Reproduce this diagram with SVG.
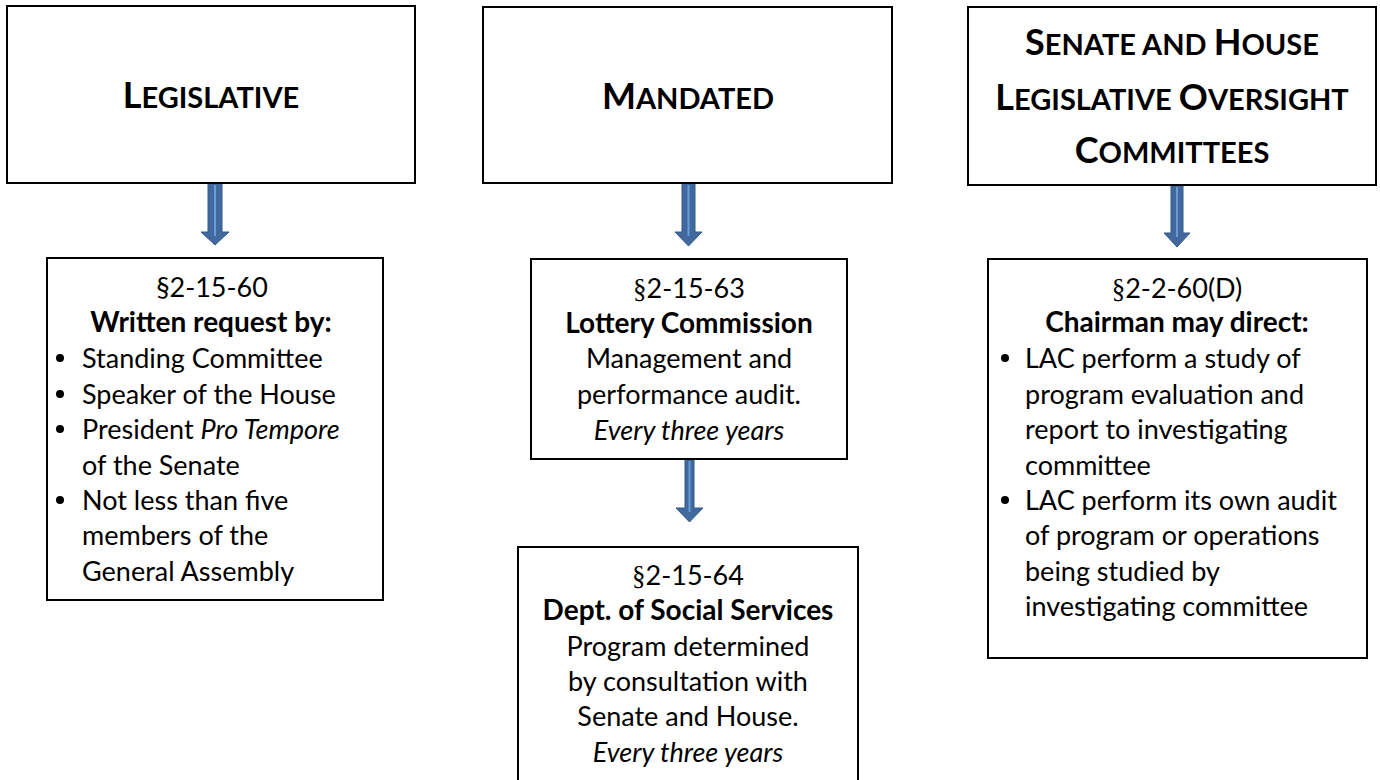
<svg xmlns="http://www.w3.org/2000/svg" width="1380" height="780" viewBox="0 0 1380 780">
<style>
.box{fill:#fff;stroke:#000;stroke-width:2}
.hd{font-family:Lato,"Liberation Sans",sans-serif;font-weight:bold;font-size:36px;fill:#000;text-anchor:middle}
.sc{font-size:29px}
.t{font-family:Lato,"Liberation Sans",sans-serif;font-size:27px;fill:#000}
.c{text-anchor:middle}
.b{font-weight:bold;font-size:28px}
.i{font-style:italic}
.sf{font-family:"Liberation Serif",serif}
.arr{fill:#41699e;stroke:#335a8a;stroke-width:1}
.hl{stroke:#6b9bd6;stroke-width:2}
</style>
<g id="connectors">
<g><polygon class="arr" points="208,183 222,183 222,232 229,232 215,245 201,232 208,232"/><line class="hl" x1="215" y1="185" x2="215" y2="236"/></g>
<g><polygon class="arr" points="682,183 695,183 695,232 702,232 688.5,246 675,232 682,232"/><line class="hl" x1="688.5" y1="185" x2="688.5" y2="236"/></g>
<g><polygon class="arr" points="685,459 694,459 694,508 703,508 689.5,522 676,508 685,508"/><line class="hl" x1="689.5" y1="461" x2="689.5" y2="512"/></g>
<g><polygon class="arr" points="1171,185 1183,185 1183,233 1190,233 1177,247 1164,233 1171,233"/><line class="hl" x1="1177" y1="187" x2="1177" y2="237"/></g>
</g>
<g id="legislative">
<rect class="box" x="7" y="6" width="408" height="177"/>
<text class="hd" x="211" y="108">L<tspan class="sc">EGISLATIVE</tspan></text>
</g>
<g id="mandated">
<rect class="box" x="483" y="7" width="409" height="176"/>
<text class="hd" x="688" y="109">M<tspan class="sc">ANDATED</tspan></text>
</g>
<g id="oversight">
<rect class="box" x="968" y="7" width="408" height="178"/>
<text class="hd" x="1172" y="55">S<tspan class="sc">ENATE AND </tspan>H<tspan class="sc">OUSE</tspan></text>
<text class="hd" x="1172" y="110">L<tspan class="sc">EGISLATIVE </tspan>O<tspan class="sc">VERSIGHT</tspan></text>
<text class="hd" x="1172" y="163">C<tspan class="sc">OMMITTEES</tspan></text>
</g>
<g id="sec-2-15-60">
<rect class="box" x="47" y="258" width="336" height="342"/>
<text class="t c" x="212" y="297">§2-15-60</text>
<text class="t c b" x="211" y="332">Written request by:</text>
<g class="t">
<circle cx="60" cy="358" r="4"/>
<text x="82" y="368">Standing Committee</text>
<circle cx="60" cy="394" r="4"/>
<text x="82" y="404">Speaker of the House</text>
<circle cx="60" cy="429" r="4"/>
<text x="82" y="439">President <tspan class="i">Pro Tempore</tspan></text>
<text x="82" y="475">of the Senate</text>
<circle cx="60" cy="500" r="4"/>
<text x="82" y="510">Not less than five</text>
<text x="82" y="545">members of the</text>
<text x="82" y="581">General Assembly</text>
</g>
</g>
<g id="sec-2-15-63">
<rect class="box" x="531" y="259" width="316" height="200"/>
<text class="t c" x="689" y="298"><tspan class="sf">§</tspan>2-15-63</text>
<text class="t c b" x="689" y="333">Lottery Commission</text>
<text class="t c" x="689" y="368">Management and</text>
<text class="t c" x="689" y="404">performance audit.</text>
<text class="t c i" x="689" y="440">Every three years</text>
</g>
<g id="sec-2-15-64">
<rect class="box" x="518" y="547" width="340" height="240"/>
<text class="t c" x="688" y="585"><tspan class="sf">§</tspan>2-15-64</text>
<text class="t c b" x="688" y="620">Dept. of Social Services</text>
<text class="t c" x="688" y="656">Program determined</text>
<text class="t c" x="688" y="691">by consultation with</text>
<text class="t c" x="688" y="726">Senate and House.</text>
<text class="t c i" x="688" y="762">Every three years</text>
</g>
<g id="sec-2-2-60D">
<rect class="box" x="988" y="259" width="379" height="399"/>
<text class="t c" x="1177" y="298"><tspan class="sf">§</tspan>2-2-60(D)</text>
<text class="t c b" x="1177" y="332">Chairman may direct:</text>
<g class="t">
<circle cx="1005" cy="358" r="4"/>
<text x="1025" y="368">LAC perform a study of</text>
<text x="1025" y="404">program evaluation and</text>
<text x="1025" y="439">report to investigating</text>
<text x="1025" y="475">committee</text>
<circle cx="1005" cy="500" r="4"/>
<text x="1025" y="510">LAC perform its own audit</text>
<text x="1025" y="545">of program or operations</text>
<text x="1025" y="581">being studied by</text>
<text x="1025" y="616">investigating committee</text>
</g>
</g>
</svg>
